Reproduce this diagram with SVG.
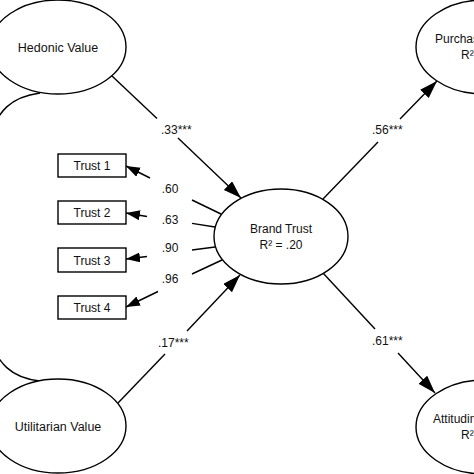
<svg xmlns="http://www.w3.org/2000/svg" width="474" height="474" viewBox="0 0 474 474">
<defs>
<marker id="ah" markerUnits="userSpaceOnUse" markerWidth="15" markerHeight="11" refX="14" refY="5" orient="auto">
<path d="M0,0 L14,5 L0,10 z" fill="#000"/>
</marker>
<marker id="ahb" markerUnits="userSpaceOnUse" markerWidth="19" markerHeight="13" refX="18" refY="6" orient="auto">
<path d="M0,0 L18,6 L0,12 z" fill="#000"/>
</marker>
<style>
.n{fill:#fff;stroke:#000;stroke-width:1.4}
.t{font-family:"Liberation Sans",Arial,sans-serif;font-size:12px;fill:#111;text-anchor:middle}
.l{font-family:"Liberation Sans",Arial,sans-serif;font-size:12px;fill:#111}
.c{fill:none;stroke:#000;stroke-width:1.4}
</style>
</defs>
<rect width="474" height="474" fill="#fff"/>
<g id="connectors">
<path class="c" d="M40,93 C10,97 -2,112 -10,135 L-10,340 C-2,362 10,378 40,381"/>
<line class="c" x1="112" y1="76" x2="157" y2="118.5"/>
<line class="c" x1="178" y1="138" x2="241" y2="198" marker-end="url(#ahb)"/>
<line class="c" x1="118" y1="403" x2="165" y2="354"/>
<line class="c" x1="187" y1="331" x2="240" y2="275" marker-end="url(#ahb)"/>
<line class="c" x1="323" y1="199" x2="378" y2="142"/>
<line class="c" x1="400" y1="119" x2="437" y2="81" marker-end="url(#ahb)"/>
<line class="c" x1="323" y1="273" x2="375" y2="329"/>
<line class="c" x1="398" y1="353" x2="435" y2="393" marker-end="url(#ahb)"/>
<line class="c" x1="221" y1="214" x2="192" y2="200"/>
<line class="c" x1="150" y1="178" x2="126" y2="166" marker-end="url(#ah)"/>
<line class="c" x1="215" y1="227" x2="192" y2="223.4"/>
<line class="c" x1="147" y1="216.5" x2="126" y2="213" marker-end="url(#ah)"/>
<line class="c" x1="215" y1="247" x2="192" y2="250"/>
<line class="c" x1="147" y1="256.5" x2="126" y2="259" marker-end="url(#ah)"/>
<line class="c" x1="222" y1="260" x2="192" y2="274"/>
<line class="c" x1="158" y1="291.5" x2="126" y2="307" marker-end="url(#ah)"/>
<text class="l" x="161" y="134">.33***</text>
<text class="l" x="158" y="347">.17***</text>
<text class="l" x="372" y="134">.56***</text>
<text class="l" x="372" y="345">.61***</text>
<text class="t" x="170" y="193">.60</text>
<text class="t" x="170" y="224">.63</text>
<text class="t" x="170" y="252">.90</text>
<text class="t" x="170" y="283">.96</text>
</g>
<g id="hedonic">
<ellipse class="n" cx="58" cy="47" rx="68" ry="47"/>
<text class="t" x="58" y="52" style="font-size:12.5px">Hedonic Value</text>
</g>
<g id="utilitarian">
<ellipse class="n" cx="58" cy="426" rx="68" ry="47"/>
<text class="t" x="58" y="431" style="font-size:12.5px">Utilitarian Value</text>
</g>
<g id="brandtrust">
<ellipse class="n" cx="281" cy="236.5" rx="67" ry="47.5"/>
<text class="t" x="281" y="233">Brand Trust</text>
<text class="t" x="281" y="249">R² = .20</text>
</g>
<g id="purchase">
<ellipse class="n" cx="484" cy="47" rx="68" ry="47"/>
<text class="l" x="435" y="43">Purchase Intention</text>
<text class="l" x="461" y="59">R² = .31</text>
</g>
<g id="attitudinal">
<ellipse class="n" cx="484" cy="427" rx="68" ry="47"/>
<text class="l" x="433" y="423">Attitudinal Loyalty</text>
<text class="l" x="461" y="439">R² = .37</text>
</g>
<g id="trust1"><rect class="n" x="58" y="154" width="68" height="23"/><text class="t" x="92" y="170">Trust 1</text></g>
<g id="trust2"><rect class="n" x="58" y="201" width="68" height="23"/><text class="t" x="92" y="217">Trust 2</text></g>
<g id="trust3"><rect class="n" x="58" y="248" width="68" height="24"/><text class="t" x="92" y="265">Trust 3</text></g>
<g id="trust4"><rect class="n" x="58" y="296" width="68" height="23"/><text class="t" x="92" y="312">Trust 4</text></g>
</svg>
